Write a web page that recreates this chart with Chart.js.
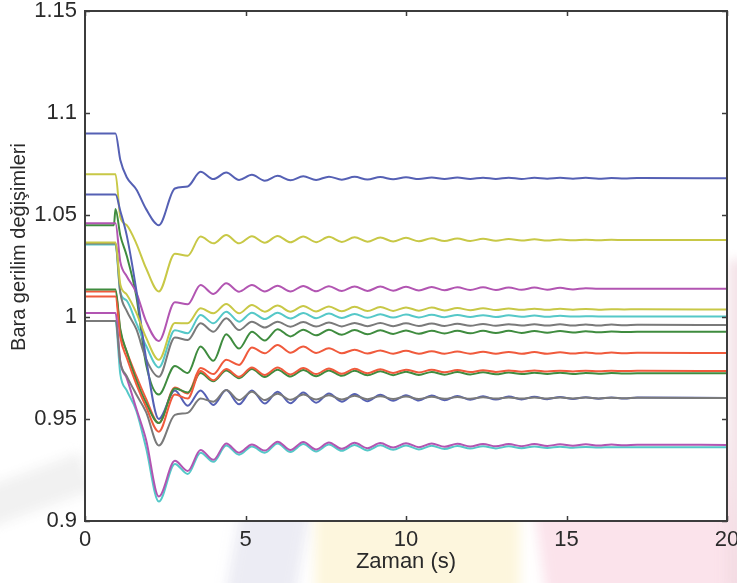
<!DOCTYPE html>
<html>
<head>
<meta charset="utf-8">
<script src="https://cdn.jsdelivr.net/npm/chart.js@4.4.1/dist/chart.umd.min.js"></script>
<style>
  html, body { margin: 0; padding: 0; background: #ffffff; }
  #wrap { position: relative; width: 737px; height: 583px; overflow: hidden; background: #ffffff; }
  .wm { position: absolute; filter: blur(6px); }
  canvas { position: absolute; left: 0; top: 0; }
</style>
</head>
<body>
<div id="wrap">
  <div class="wm" style="left:-20px;top:470px;width:110px;height:40px;background:rgba(215,215,215,0.35);transform:rotate(-20deg);"></div>
  <div class="wm" style="left:235px;top:470px;width:70px;height:140px;background:rgba(228,228,240,0.7);transform:skewX(-10deg);"></div>
  <div class="wm" style="left:315px;top:460px;width:205px;height:140px;background:rgba(252,243,210,0.75);"></div>
  <div class="wm" style="left:535px;top:430px;width:200px;height:170px;background:rgba(250,218,228,0.75);transform:skewX(8deg);"></div>
  <div class="wm" style="left:728px;top:260px;width:20px;height:330px;background:rgba(240,215,222,0.7);"></div>
  <canvas id="c" width="737" height="583"></canvas>
</div>
<script>
// Simulation time samples (s)
const timeS = [0, 0.9, 0.95, 1.1, 1.3, 1.6, 1.9, 2.3, 2.8, 3.2,
  3.6, 4.0, 4.4, 4.8, 5.2, 5.6, 6.0, 6.4, 6.8, 7.2,
  7.6, 8.0, 8.4, 8.8, 9.2, 9.6, 10.0, 10.4, 10.8, 11.2,
  11.6, 12.0, 12.4, 12.8, 13.2, 13.6, 14.0, 14.4, 14.8, 15.2,
  15.6, 16.0, 16.4, 16.8, 17.2, 20];

// Bus voltages (pu)
const busBlue1 = [1.090, 1.090, 1.090, 1.077, 1.0685, 1.0625, 1.053, 1.045, 1.063, 1.064,
  1.0712, 1.0676, 1.0708, 1.0672, 1.0697, 1.0668, 1.0692, 1.0670, 1.0690, 1.0672,
  1.0688, 1.0673, 1.0687, 1.0674, 1.0686, 1.0675, 1.0685, 1.0676, 1.0684, 1.0676,
  1.0684, 1.0677, 1.0683, 1.0677, 1.0683, 1.0677, 1.0682, 1.0678, 1.0682, 1.0678,
  1.0682, 1.0678, 1.0681, 1.0679, 1.0681, 1.0680];
const busGreen1 = [1.045, 1.045, 1.053, 1.040, 1.030, 1.010, 0.977, 0.962, 0.976, 0.9725,
  0.9855, 0.9785, 0.9915, 0.9845, 0.9928, 0.9885, 0.9940, 0.9905, 0.9938, 0.9910,
  0.9937, 0.9913, 0.9936, 0.9915, 0.9935, 0.9917, 0.9934, 0.9918, 0.9933, 0.9919,
  0.9933, 0.9920, 0.9932, 0.9921, 0.9932, 0.9922, 0.9931, 0.9923, 0.9931, 0.9924,
  0.9930, 0.9925, 0.9929, 0.9926, 0.9928, 0.9928];
const busRed1 = [1.0125, 1.0125, 1.0125, 0.993, 0.983, 0.971, 0.960, 0.948, 0.9655, 0.9625,
  0.9750, 0.9720, 0.9790, 0.9765, 0.9850, 0.9822, 0.9863, 0.9825, 0.9855, 0.9824,
  0.9847, 0.9822, 0.9840, 0.9821, 0.9836, 0.9820, 0.9834, 0.9820, 0.9832, 0.9820,
  0.9831, 0.9820, 0.9830, 0.9820, 0.9829, 0.9820, 0.9828, 0.9820, 0.9827, 0.9821,
  0.9826, 0.9821, 0.9826, 0.9822, 0.9825, 0.9823];
const busCyan1 = [1.0355, 1.0355, 1.0355, 1.012, 1.008, 0.997, 0.986, 0.9753, 0.9935, 0.9920,
  1.0010, 0.9969, 1.0026, 0.9977, 1.0021, 0.9990, 1.0021, 0.9993, 1.0019, 0.9994,
  1.0017, 0.9995, 1.0015, 0.9996, 1.0013, 0.9997, 1.0012, 0.9998, 1.0011, 0.9999,
  1.0010, 1.0000, 1.0009, 1.0000, 1.0008, 1.0001, 1.0007, 1.0001, 1.0006, 1.0002,
  1.0004, 1.0003, 1.0003, 1.0003, 1.0003, 1.0003];
const busMagenta1 = [1.046, 1.046, 1.046, 1.027, 1.020, 1.012, 0.998, 0.9882, 1.0072, 1.0062,
  1.0157, 1.0113, 1.0165, 1.0124, 1.0157, 1.0125, 1.0153, 1.0125, 1.0152, 1.0126,
  1.0151, 1.0127, 1.0150, 1.0128, 1.0149, 1.0129, 1.0148, 1.0130, 1.0147, 1.0131,
  1.0146, 1.0132, 1.0146, 1.0132, 1.0145, 1.0133, 1.0144, 1.0134, 1.0143, 1.0135,
  1.0141, 1.0138, 1.0138, 1.0138, 1.0138, 1.0138];
const busYellow1 = [1.070, 1.070, 1.070, 1.049, 1.045, 1.036, 1.024, 1.0125, 1.031, 1.030,
  1.0394, 1.0361, 1.0402, 1.0361, 1.0396, 1.0364, 1.0397, 1.0366, 1.0395, 1.0367,
  1.0393, 1.0368, 1.0391, 1.0369, 1.0390, 1.0370, 1.0388, 1.0371, 1.0386, 1.0372,
  1.0385, 1.0373, 1.0383, 1.0374, 1.0382, 1.0375, 1.0381, 1.0375, 1.0380, 1.0376,
  1.0379, 1.0376, 1.0379, 1.0377, 1.0378, 1.0377];
const busGray1 = [1.036, 1.036, 1.036, 1.012, 1.003, 0.994, 0.9795, 0.9707, 0.990, 0.9887,
  0.9969, 0.9928, 0.9994, 0.9936, 0.9977, 0.9948, 0.9977, 0.9952, 0.9975, 0.9953,
  0.9973, 0.9954, 0.9971, 0.9955, 0.9970, 0.9955, 0.9969, 0.9956, 0.9968, 0.9956,
  0.9967, 0.9957, 0.9966, 0.9957, 0.9965, 0.9958, 0.9964, 0.9958, 0.9964, 0.9958,
  0.9963, 0.9958, 0.9963, 0.9959, 0.9962, 0.9961];
const busBlue2 = [1.060, 1.060, 1.060, 1.052, 1.040, 1.013, 0.980, 0.950, 0.964, 0.9565,
  0.9640, 0.9569, 0.9642, 0.9572, 0.9640, 0.9576, 0.9634, 0.9577, 0.9630, 0.9580,
  0.9625, 0.9585, 0.9622, 0.9587, 0.9619, 0.9589, 0.9617, 0.9591, 0.9615, 0.9592,
  0.9613, 0.9594, 0.9611, 0.9595, 0.9610, 0.9596, 0.9609, 0.9597, 0.9608, 0.9598,
  0.9607, 0.9599, 0.9606, 0.9600, 0.9605, 0.9603];
const busGreen2 = [1.0135, 1.0135, 1.0135, 0.994, 0.983, 0.969, 0.958, 0.948, 0.965, 0.963,
  0.9725, 0.9685, 0.9738, 0.9700, 0.9745, 0.9706, 0.9742, 0.9708, 0.9740, 0.9710,
  0.9738, 0.9712, 0.9736, 0.9714, 0.9734, 0.9715, 0.9732, 0.9716, 0.9731, 0.9717,
  0.9730, 0.9718, 0.9729, 0.9719, 0.9728, 0.9720, 0.9727, 0.9721, 0.9727, 0.9721,
  0.9726, 0.9722, 0.9725, 0.9723, 0.9724, 0.9724];
const busRed2 = [1.010, 1.010, 1.010, 0.990, 0.980, 0.967, 0.956, 0.9438, 0.962, 0.960,
  0.9735, 0.9690, 0.9745, 0.9707, 0.9753, 0.9716, 0.9752, 0.9718, 0.9750, 0.9720,
  0.9748, 0.9722, 0.9746, 0.9724, 0.9744, 0.9726, 0.9742, 0.9728, 0.9741, 0.9729,
  0.9740, 0.9730, 0.9739, 0.9731, 0.9738, 0.9732, 0.9738, 0.9733, 0.9737, 0.9733,
  0.9737, 0.9734, 0.9736, 0.9735, 0.9736, 0.9735];
const busCyan2 = [0.998, 0.998, 0.998, 0.972, 0.964, 0.954, 0.936, 0.9095, 0.928, 0.923,
  0.9335, 0.9290, 0.9370, 0.9325, 0.9365, 0.9335, 0.9380, 0.9338, 0.9377, 0.9341,
  0.9375, 0.9344, 0.9373, 0.9346, 0.9371, 0.9349, 0.9370, 0.9351, 0.9369, 0.9353,
  0.9368, 0.9355, 0.9367, 0.9356, 0.9366, 0.9357, 0.9365, 0.9358, 0.9364, 0.9359,
  0.9363, 0.9360, 0.9362, 0.9361, 0.9362, 0.9362];
const busMagenta2 = [1.002, 1.002, 1.002, 0.978, 0.970, 0.955, 0.940, 0.912, 0.9295, 0.9245,
  0.9348, 0.9300, 0.9380, 0.9335, 0.9375, 0.9345, 0.9389, 0.9348, 0.9387, 0.9351,
  0.9385, 0.9354, 0.9383, 0.9357, 0.9382, 0.9360, 0.9381, 0.9362, 0.9380, 0.9364,
  0.9379, 0.9365, 0.9378, 0.9366, 0.9377, 0.9367, 0.9377, 0.9368, 0.9376, 0.9369,
  0.9376, 0.9370, 0.9375, 0.9371, 0.9374, 0.9373];
const busYellow2 = [1.0365, 1.0365, 1.0365, 1.016, 1.011, 1.002, 0.990, 0.979, 0.997, 0.9969,
  1.0043, 1.0018, 1.0064, 1.0018, 1.0059, 1.0026, 1.0056, 1.0026, 1.0054, 1.0027,
  1.0052, 1.0028, 1.0050, 1.0029, 1.0049, 1.0030, 1.0047, 1.0031, 1.0046, 1.0032,
  1.0044, 1.0033, 1.0043, 1.0034, 1.0042, 1.0035, 1.0041, 1.0035, 1.0040, 1.0036,
  1.0039, 1.0036, 1.0038, 1.0037, 1.0038, 1.0037];
const busGray2 = [0.998, 0.998, 0.998, 0.978, 0.971, 0.962, 0.9535, 0.937, 0.952, 0.9530,
  0.9600, 0.9585, 0.9642, 0.9593, 0.9634, 0.9593, 0.9624, 0.9594, 0.9620, 0.9595,
  0.9617, 0.9596, 0.9614, 0.9597, 0.9612, 0.9598, 0.9610, 0.9598, 0.9609, 0.9599,
  0.9608, 0.9599, 0.9607, 0.9600, 0.9606, 0.9600, 0.9606, 0.9601, 0.9605, 0.9601,
  0.9605, 0.9601, 0.9604, 0.9602, 0.9604, 0.9603];

// Axis ticks and labels
const xTicks = [0, 5, 10, 15, 20];
const yTicks = [0.9, 0.95, 1, 1.05, 1.1, 1.15];
const xLabel = 'Zaman (s)';
const yLabel = 'Bara gerilim değişimleri';

// Line colours in plotting order (later series sit on top)
const C = { b: '#5560b4', g: '#3f8c3f', r: '#f05a3c', c: '#55c8c8', m: '#b255b2', y: '#c8c846', k: '#7a7a7a' };
const series = [
  [busBlue1, C.b], [busGreen1, C.g], [busRed1, C.r], [busCyan1, C.c], [busMagenta1, C.m], [busYellow1, C.y], [busGray1, C.k],
  [busBlue2, C.b], [busGreen2, C.g], [busRed2, C.r], [busCyan2, C.c], [busMagenta2, C.m], [busYellow2, C.y], [busGray2, C.k]
];

const datasets = series.map(([vals, col], i) => ({
  data: timeS.map((t, k) => ({ x: t, y: vals[k] })),
  borderColor: col,
  borderWidth: 2,
  pointRadius: 0,
  fill: false,
  cubicInterpolationMode: 'monotone',
  borderJoinStyle: 'round',
  order: series.length - i
}));

const FONT = "'Liberation Sans', Arial, Helvetica, sans-serif";

// White plotting area, box frame, inward tick marks and the vertical axis label
const axesBox = {
  id: 'axesBox',
  beforeDatasetsDraw(chart) {
    const { ctx, chartArea: a } = chart;
    ctx.save();
    ctx.fillStyle = '#ffffff';
    ctx.fillRect(a.left, a.top, a.right - a.left, a.bottom - a.top);
    ctx.restore();
  },
  afterDatasetsDraw(chart) {
    const { ctx, chartArea: a, scales } = chart;
    ctx.save();
    ctx.strokeStyle = '#3c3c3c';
    ctx.lineWidth = 2;
    ctx.strokeRect(a.left, a.top, a.right - a.left, a.bottom - a.top);
    ctx.lineWidth = 1.5;
    const L = 5;
    ctx.beginPath();
    yTicks.forEach(v => {
      const y = Math.round(scales.y.getPixelForValue(v)) + 0.5;
      ctx.moveTo(a.left, y); ctx.lineTo(a.left + L, y);
      ctx.moveTo(a.right, y); ctx.lineTo(a.right - L, y);
    });
    xTicks.forEach(v => {
      const x = Math.round(scales.x.getPixelForValue(v)) + 0.5;
      ctx.moveTo(x, a.bottom); ctx.lineTo(x, a.bottom - L);
      ctx.moveTo(x, a.top); ctx.lineTo(x, a.top + L);
    });
    ctx.stroke();

    // y-axis label, rotated
    ctx.translate(19, scales.y.getPixelForValue(1.0343));
    ctx.rotate(-Math.PI / 2);
    ctx.fillStyle = '#2a2a2a';
    ctx.font = "20px " + FONT;
    ctx.textAlign = 'center';
    ctx.textBaseline = 'middle';
    ctx.fillText(yLabel, 0, 0);
    ctx.restore();
  }
};

new Chart(document.getElementById('c'), {
  type: 'line',
  data: { datasets },
  options: {
    responsive: false,
    animation: false,
    devicePixelRatio: 1,
    layout: { padding: { top: 11, right: 10, left: 0, bottom: 0 } },
    plugins: { legend: { display: false }, tooltip: { enabled: false } },
    scales: {
      x: {
        type: 'linear',
        min: 0, max: 20,
        afterBuildTicks(s) { s.ticks = xTicks.map(v => ({ value: v })); },
        afterFit(s) { s.height = 62; s.paddingLeft = 0; s.paddingRight = 0; },
        grid: { display: false, drawTicks: false },
        border: { display: false },
        ticks: { color: '#2a2a2a', padding: 6, maxRotation: 0, font: { family: FONT, size: 22 } },
        title: { display: true, text: xLabel, color: '#2a2a2a', font: { family: FONT, size: 22 }, padding: { top: 0, bottom: 8 } }
      },
      y: {
        type: 'linear',
        min: 0.9, max: 1.15,
        afterBuildTicks(s) { s.ticks = yTicks.map(v => ({ value: v })); },
        afterFit(s) { s.width = 85; s.paddingTop = 0; s.paddingBottom = 0; },
        grid: { display: false, drawTicks: false },
        border: { display: false },
        ticks: { color: '#2a2a2a', padding: 8, font: { family: FONT, size: 22 },
                 callback: v => String(+v.toFixed(2)) },
        title: { display: false, text: yLabel }
      }
    }
  },
  plugins: [axesBox]
});
</script>
</body>
</html>
